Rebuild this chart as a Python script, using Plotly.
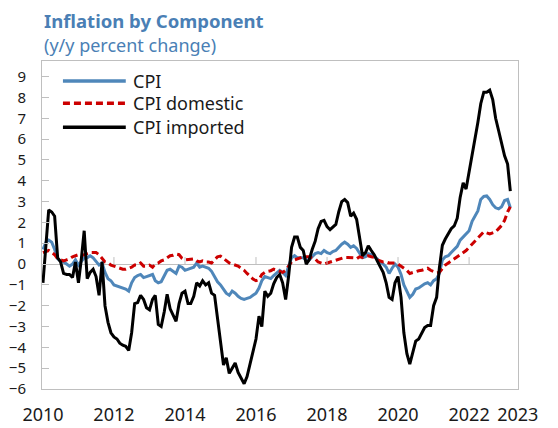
import pandas as pd
import plotly.graph_objects as go

# monthly, Jan 2010 - Mar 2023 (y/y % change)
months = pd.date_range('2010-01-01', periods=159, freq='MS')

cpi = [
    0.7, 1.05, 1.15, 1.05, 0.7, 0.25, 0.15, 0.1, 0.0, -0.1, 0.0, 0.2,
    -0.05, 0.15, 0.3, 0.3, 0.4, 0.3, 0.15, -0.05, 0.05, -0.4, -0.7, -0.8,
    -1.0, -1.05, -1.1, -1.15, -1.2, -1.3, -0.9, -0.65, -0.55, -0.5, -0.65, -0.6,
    -0.55, -0.5, -0.8, -0.9, -0.85, -0.55, -0.3, -0.25, -0.35, -0.45, -0.1, -0.15,
    -0.3, -0.25, -0.2, -0.15, 0.05, -0.15, -0.1, -0.15, -0.2, -0.35, -0.6, -0.85,
    -1.0, -1.2, -1.4, -1.5, -1.3, -1.4, -1.55, -1.65, -1.7, -1.65, -1.6, -1.5,
    -1.4, -1.15, -0.8, -0.6, -0.65, -0.7, -0.55, -0.4, -0.3, -0.4, -0.55, -0.1,
    0.3, 0.4, 0.3, 0.3, 0.3, 0.2, 0.2, 0.35, 0.5, 0.55, 0.5, 0.65,
    0.55, 0.5, 0.6, 0.65, 0.8, 0.95, 1.05, 0.95, 0.8, 0.88, 0.75, 0.55,
    0.3, 0.35, 0.5, 0.45, 0.35, 0.25, 0.1, 0.0, -0.15, -0.45, -0.2, 0.0,
    -0.15, -0.5, -1.0, -1.35, -1.6, -1.45, -1.2, -1.15, -1.05, -0.95, -0.9, -1.0,
    -0.8, -0.7, -0.45, 0.2, 0.35, 0.4, 0.55, 0.7, 0.85, 1.15, 1.3, 1.4,
    1.6, 2.05, 2.3, 2.55, 3.1, 3.25, 3.27, 3.1, 2.85, 2.7, 2.65, 2.75,
    3.05, 3.1, 2.7,
]

cpi_domestic = [
    0.55, 0.6, 0.65, 0.55, 0.45, 0.25, 0.2, 0.15, 0.2, 0.25, 0.35, 0.4,
    0.45, 0.4, 0.45, 0.5, 0.55, 0.55, 0.55, 0.45, 0.25, 0.1, 0.05, -0.05,
    -0.1, -0.15, -0.2, -0.25, -0.25, -0.2, -0.15, -0.05, -0.05, 0.05, -0.1, -0.1,
    -0.05, -0.15, 0.0, 0.05, 0.15, 0.2, 0.3, 0.4, 0.42, 0.48, 0.45, 0.28,
    0.2, 0.22, 0.25, 0.25, 0.15, 0.1, 0.15, 0.1, 0.1, 0.05, 0.2, 0.35,
    0.38, 0.25, 0.15, 0.05, 0.0, -0.05, -0.1, -0.2, -0.3, -0.45, -0.6, -0.72,
    -0.8, -0.75, -0.5, -0.4, -0.35, -0.32, -0.25, -0.3, -0.32, -0.4, -0.3, -0.1,
    0.1, 0.2, 0.25, 0.3, 0.35, 0.35, 0.35, 0.3, 0.25, 0.1, 0.05, 0.0,
    0.05, 0.1, 0.15, 0.2, 0.25, 0.28, 0.32, 0.32, 0.32, 0.3, 0.25, 0.35,
    0.32, 0.38, 0.4, 0.35, 0.32, 0.2, 0.15, 0.1, 0.1, 0.05, 0.05, 0.05,
    0.0, -0.1, -0.2, -0.3, -0.45, -0.4, -0.35, -0.32, -0.3, -0.25, -0.2, -0.3,
    -0.38, -0.42, -0.4, -0.2, -0.05, 0.05, 0.15, 0.25, 0.35, 0.45, 0.55, 0.65,
    0.8, 0.95, 1.1, 1.25, 1.4, 1.55, 1.5, 1.45, 1.5, 1.55, 1.7, 1.85,
    2.1, 2.5, 2.75,
]

cpi_imported = [
    -0.9, 1.0, 2.6, 2.5, 2.3, 0.3, 0.1, -0.45, -0.5, -0.5, -0.65, 0.1,
    -0.9, 0.3, 1.6, -0.7, -0.4, -0.25, -0.6, -1.5, 0.1, -2.0, -2.8, -3.3,
    -3.5, -3.6, -3.8, -3.9, -3.95, -4.15, -3.3, -1.9, -1.85, -1.5, -1.7, -2.1,
    -2.2, -1.7, -1.5, -2.9, -3.0, -2.3, -1.45, -2.15, -2.45, -2.75, -1.9, -1.4,
    -1.3, -1.9, -1.9, -1.55, -0.9, -1.05, -0.8, -1.0, -0.9, -1.4, -1.5, -2.6,
    -4.0, -4.85, -4.5, -5.25, -5.0, -4.75, -5.2, -5.5, -5.75, -5.4, -4.8, -4.2,
    -3.6, -2.5, -3.0, -1.3, -1.55, -1.4, -0.95, -0.65, -0.5, -0.9, -1.7, -0.6,
    0.8, 1.3, 1.3, 0.8, 0.65, 0.0, 0.2, 0.7, 1.1, 1.7, 2.05, 2.1,
    1.8, 1.65, 1.75, 1.9, 2.5, 3.0, 3.1, 2.95, 2.3, 2.45, 2.15, 1.2,
    0.4, 0.55, 0.88, 0.65, 0.45, 0.15, -0.1, -0.4, -0.9, -1.6, -1.7, -0.9,
    -0.6, -1.6, -3.3, -4.3, -4.8, -4.3, -3.7, -3.6, -3.3, -3.05, -2.95, -2.95,
    -2.0, -1.6, -0.2, 0.9, 1.2, 1.45, 1.7, 1.83, 2.2, 3.2, 3.9, 3.6,
    4.4, 5.1, 5.8, 6.8, 7.7, 8.25, 8.25, 8.35, 7.9, 7.0, 6.4, 5.8,
    5.2, 4.8, 3.5,
]

series_names = ['CPI', 'CPI domestic', 'CPI imported']
series_values = [cpi, cpi_domestic, cpi_imported]
series_colors = ['#4f87ba', '#cc0000', '#000000']
series_dash = ['solid', '7px,4px', 'solid']

year_ticks = ['2010-01-01', '2012-01-01', '2014-01-01', '2016-01-01',
              '2018-01-01', '2020-01-01', '2022-01-01', '2023-05-17']
year_labels = ['2010', '2012', '2014', '2016', '2018', '2020', '2022', '2023']
y_ticks = list(range(-6, 10))

FONT = 'Noto Sans'
GRID = '#bfbfbf'

fig = go.Figure()

for name, vals, col, dash in zip(series_names, series_values, series_colors, series_dash):
    fig.add_trace(go.Scatter(
        x=months, y=vals, name=name, mode='lines',
        line=dict(color=col, width=3, dash=dash),
        showlegend=False,
    ))

# legend drawn by hand so the line samples are as long as in the original
legend_y = [0.939, 0.871, 0.798]
for name, col, dash, ly in zip(series_names, series_colors, series_dash, legend_y):
    fig.add_shape(type='line', xref='paper', yref='paper',
                  x0=0.044, x1=0.176, y0=ly, y1=ly,
                  line=dict(color=col, width=3.5, dash=dash))
    fig.add_annotation(text=name, xref='paper', yref='paper', x=0.186, y=ly,
                       xanchor='left', yanchor='middle', showarrow=False,
                       font=dict(family=FONT, size=18, color='#1a1a1a'))

# small x ticks sitting on the zero line
for t in year_ticks[1:-1]:
    fig.add_shape(type='line', xref='x', yref='y', ysizemode='pixel', yanchor=0,
                  x0=t, x1=t, y0=0, y1=7, line=dict(color=GRID, width=1))

fig.add_annotation(text='<b>Inflation by Component</b>', xref='paper', yref='paper',
                   x=0, y=1.125, xanchor='left', yanchor='middle', showarrow=False,
                   font=dict(family=FONT, size=18.5, color='#4a7fb5'))
fig.add_annotation(text='(y/y percent change)', xref='paper', yref='paper',
                   x=0, y=1.049, xanchor='left', yanchor='middle', showarrow=False,
                   font=dict(family=FONT, size=18, color='#4a7fb5'))

# the page body adds an 8px margin, so the figure is 8px smaller each way
fig.update_layout(
    width=550, height=420,
    margin=dict(l=34, r=40, t=53, b=39, autoexpand=False),
    paper_bgcolor='white', plot_bgcolor='white',
    showlegend=False,
    xaxis=dict(
        type='date', range=['2009-12-22', '2023-05-19'], automargin=False,
        tickvals=year_ticks, ticktext=year_labels,
        ticks='', showgrid=False, zeroline=False,
        showline=True, linecolor=GRID, linewidth=1, mirror=True,
        tickfont=dict(family=FONT, size=18, color='#1a1a1a'),
        ticklabelstandoff=9,
    ),
    yaxis=dict(
        range=[-6, 9.75], tickvals=y_ticks, automargin=False,
        ticks='inside', ticklen=7, tickcolor=GRID,
        showgrid=False, zeroline=True, zerolinecolor=GRID, zerolinewidth=1,
        showline=True, linecolor=GRID, linewidth=1, mirror=True,
        tickfont=dict(family=FONT, size=15, color='#1a1a1a'),
        ticklabelstandoff=12,
    ),
    yaxis2=dict(
        range=[-6, 9.75], tickvals=y_ticks, overlaying='y', side='right',
        automargin=False,
        ticks='inside', ticklen=7, tickcolor=GRID,
        showgrid=False, zeroline=False, showline=False,
        tickfont=dict(family=FONT, size=15, color='#1a1a1a'),
        ticklabelstandoff=12,
    ),
)

fig.write_html('out.html')
